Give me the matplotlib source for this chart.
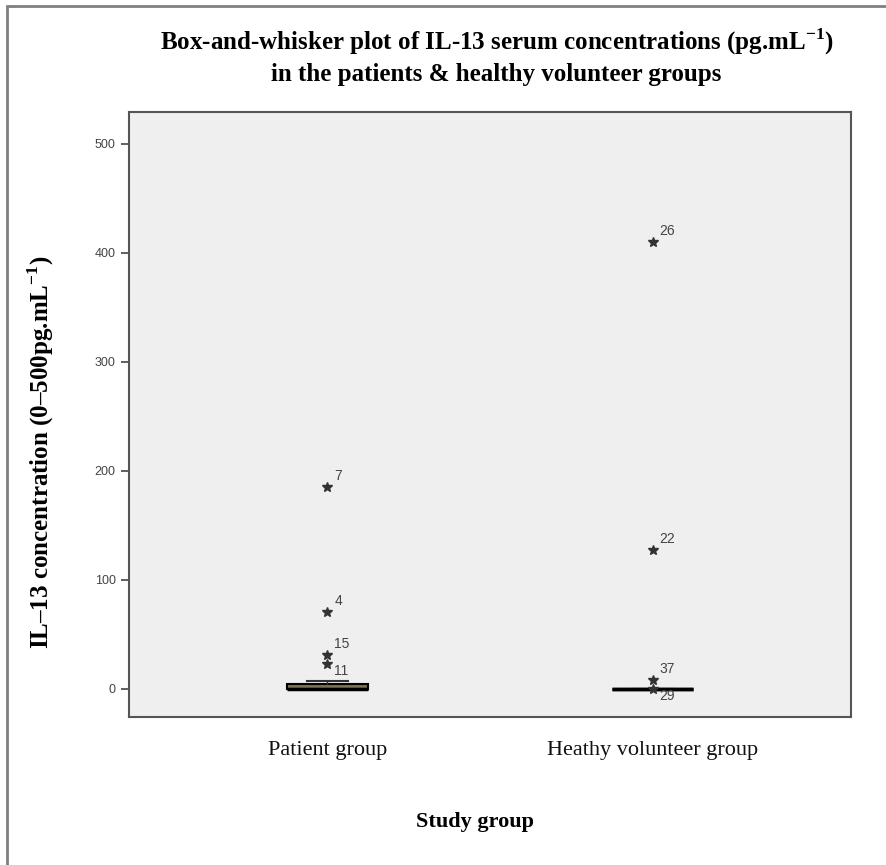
import matplotlib
matplotlib.use('Agg')
import matplotlib.pyplot as plt
from matplotlib.patches import Rectangle

plt.rcParams['mathtext.fontset'] = 'custom'
plt.rcParams['mathtext.rm'] = 'Liberation Serif'
plt.rcParams['mathtext.bf'] = 'Liberation Serif:bold'

# data
groups = ['Patient group', 'Heathy volunteer group']
q1 = [0.0, 0.0]
median = [0.0, 0.0]
q3 = [4.5, 0.0]
whis_lo = [0.0, 0.0]
whis_hi = [7.0, 0.0]
outlier_vals = [[185, 70, 31, 23], [410, 127, 8, 0]]
outlier_ids = [['7', '4', '15', '11'], ['26', '22', '37', '29']]
yticks = [0, 100, 200, 300, 400, 500]

# ids whose label sits under the star
below_ids = ['11', '29']

serif = ['Liberation Serif', 'DejaVu Serif']
sans = ['Liberation Sans', 'DejaVu Sans']

fig = plt.figure(figsize=(8.87, 8.65), dpi=100)
fig.patch.set_facecolor('white')

# outer frame of the exported chart
fig.add_artist(Rectangle((7 / 887, -0.05), 1.0, 1.05 - 6 / 865, transform=fig.transFigure,
                         fill=False, edgecolor='#808080', linewidth=2.0))

ax = fig.add_axes([129 / 887, 1 - 717 / 865, 722 / 887, 605 / 865])
ax.set_facecolor('#efefef')

pos = [1, 2]
stats = []
for i in range(len(groups)):
    stats.append({'med': median[i], 'q1': q1[i], 'q3': q3[i],
                  'whislo': whis_lo[i], 'whishi': whis_hi[i], 'fliers': []})

bp = ax.bxp(stats, positions=pos, widths=0.25, patch_artist=True, showfliers=False,
            boxprops=dict(facecolor='#7a7452', edgecolor='black', linewidth=1.5),
            medianprops=dict(color='black', linewidth=2.5),
            whiskerprops=dict(color='#333333', linewidth=1.0),
            capprops=dict(color='#333333', linewidth=1.5), capwidths=0.125)
# healthy group collapses to a single thick line
bp['boxes'][1].set_linewidth(2.5)

for i in range(len(groups)):
    ax.plot([pos[i]] * len(outlier_vals[i]), outlier_vals[i], linestyle='none',
            marker='*', markersize=7, color='#333333', zorder=3)
    for v, lab in zip(outlier_vals[i], outlier_ids[i]):
        dy = -5 if lab in below_ids else 8
        ax.annotate(lab, (pos[i], v), xytext=(5, dy), textcoords='offset points',
                    fontsize=10, color='#444444', family=sans, va='center')

ax.set_xlim(0.39, 2.61)
ax.set_ylim(-26, 529)
ax.set_yticks(yticks)
ax.set_xticks(pos)
ax.set_xticklabels(groups, family=serif, fontsize=16, color='#111111')
ax.tick_params(axis='y', labelsize=9, colors='#444444', length=6, width=1.2)
ax.tick_params(axis='x', length=0, pad=17)
for lab in ax.get_yticklabels():
    lab.set_family(sans)
for s in ax.spines.values():
    s.set_color('#555555')
    s.set_linewidth(1.5)

fig.text(497 / 887, 1 - 42 / 865,
         r'Box-and-whisker plot of IL-13 serum concentrations (pg.mL$^{\mathbf{-1}}$)',
         ha='center', va='center', fontsize=18, fontweight='bold', family=serif)
fig.text(496 / 887, 1 - 75 / 865, 'in the patients & healthy volunteer groups',
         ha='center', va='center', fontsize=18, fontweight='bold', family=serif)
fig.text(41 / 887, 1 - 452 / 865,
         r'IL–13 concentration (0–500pg.mL$^{\mathbf{-1}}$)',
         rotation=90, ha='center', va='center', fontsize=18, fontweight='bold', family=serif)
fig.text(475 / 887, 1 - 822 / 865, 'Study group', ha='center', va='center',
         fontsize=16, fontweight='bold', family=serif)

fig.savefig('out.png', dpi=100)
